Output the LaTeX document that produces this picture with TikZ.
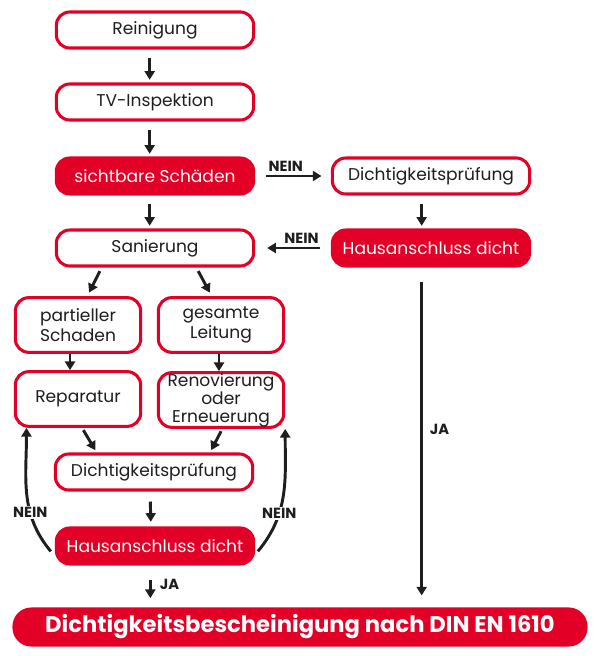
\documentclass[tikz,border=0pt]{standalone}
\usepackage{fontspec}
\setmainfont{Poppins}
\usepackage{tikz}
\usetikzlibrary{arrows.meta}
\definecolor{dred}{RGB}{226,0,38}
\definecolor{txt}{RGB}{30,30,30}

\begin{document}
\begin{tikzpicture}[x=0.75pt,y=0.75pt,yscale=-1,xscale=1,
  box/.style={draw=dred,line width=2.3pt,rounded corners=10pt,fill=white,minimum width=148pt,minimum height=27pt,align=center,text=txt,inner sep=0pt,font=\fontsize{12.8}{13}\selectfont},
  redbox/.style={box,fill=dred,text=white},
  smallbox/.style={box,minimum width=94pt,minimum height=41pt,font=\fontsize{12.8}{15}\selectfont},
  arr/.style={-{Triangle[length=6.5pt,width=7.5pt]},line width=2.2pt,draw=txt},
  lbl/.style={font=\bfseries\fontsize{11}{11}\selectfont,text=txt,inner sep=1pt}]
\useasboundingbox (0,0) rectangle (600,656);
% boxes, left column
\node[box] (rein) at (155,30) {Reinigung};
\node[box] (tv) at (155,102) {TV-Inspektion};
\node[redbox] (sicht) at (155,176) {sichtbare Schäden};
\node[box] (san) at (155,248) {Sanierung};
% right column
\node[box] (dpr) at (431,176) {Dichtigkeitsprüfung};
\node[redbox] (hdr) at (431,248) {Hausanschluss dicht};
% branches
\node[smallbox] (part) at (78,325) {partieller\\Schaden};
\node[smallbox] (ges) at (221,325) {gesamte\\Leitung};
\node[smallbox] (rep) at (78,399) {Reparatur};
\node[smallbox,font=\fontsize{12.8}{13.5}\selectfont] (ren) at (221,400) {Renovierung\\oder\\Erneuerung};
\node[box] (dpm) at (154,472) {Dichtigkeitsprüfung};
\node[redbox] (hbt) at (155,546) {Hausanschluss dicht};
\node[redbox,minimum width=429pt,rounded corners=13pt,font=\bfseries\fontsize{17}{17}\selectfont] (din) at (300,627) {Dichtigkeitsbescheinigung nach DIN EN 1610};

\draw[arr,shorten <=6pt,shorten >=2pt] ([xshift=-4pt]rein.south) -- ([xshift=-4pt]tv.north);
\draw[arr,shorten <=6pt,shorten >=2pt] ([xshift=-4pt]tv.south) -- ([xshift=-4pt]sicht.north);
\draw[arr,shorten <=6pt,shorten >=2pt] ([xshift=-4pt]sicht.south) -- ([xshift=-4pt]san.north);
\draw[arr,shorten <=8pt,shorten >=7pt] (sicht.east) -- (dpr.west) node[lbl,pos=0,anchor=south west,xshift=8pt,yshift=1pt] {NEIN};
\draw[arr,shorten <=6pt,shorten >=2pt] ([xshift=-7pt]dpr.south) -- ([xshift=-7pt]hdr.north);
\draw[arr,shorten <=8pt,shorten >=9pt] (hdr.west) -- (san.east) node[lbl,pos=0,anchor=south east,xshift=-7pt,yshift=1pt] {NEIN};
\draw[arr,shorten <=11pt,shorten >=9pt] ([xshift=-7pt]hdr.south) -- ([xshift=-7pt]hdr.south |- din.north) node[lbl,pos=0.475,right=4pt] {JA};

\draw[arr,shorten <=3pt,shorten >=3pt] ([xshift=-40pt]san.south) -- ([xshift=7pt]part.north);
\draw[arr,shorten <=3pt,shorten >=3pt] ([xshift=31pt]san.south) -- ([xshift=-7pt]ges.north);
\draw[arr] ([xshift=-6pt]part.south) -- ([xshift=-6pt]rep.north);
\draw[arr] ([xshift=-1.5pt]ges.south) -- ([xshift=-1.5pt]ren.north);
\draw[arr,shorten <=2pt,shorten >=2pt] ([xshift=3pt]rep.south) -- ([xshift=-43pt]dpm.north);
\draw[arr,shorten <=2pt,shorten >=2pt] ([xshift=1pt]ren.south) -- ([xshift=42pt]dpm.north);
\draw[arr,shorten <=7.5pt,shorten >=3.5pt] ([xshift=-3pt]dpm.south) -- ([xshift=-3pt]hbt.north);
\draw[arr,shorten <=10.5pt,shorten >=7pt] ([xshift=-3.5pt]hbt.south) -- ([xshift=-3.5pt]hbt.south |- din.north) node[lbl,pos=0.45,right=5pt] {JA};

% NEIN loops
\draw[arr,line width=2.2pt] ([shift={(-3pt,4pt)}]hbt.west) to[out=-130,in=90] node[lbl,fill=white,pos=0.34] {NEIN} ([xshift=9.5pt]rep.south west);
\draw[arr,line width=2.2pt] ([shift={(2pt,4pt)}]hbt.east) to[out=-50,in=90] node[lbl,fill=white,pos=0.34] {NEIN} (ren.south east);
\end{tikzpicture}
\end{document}
